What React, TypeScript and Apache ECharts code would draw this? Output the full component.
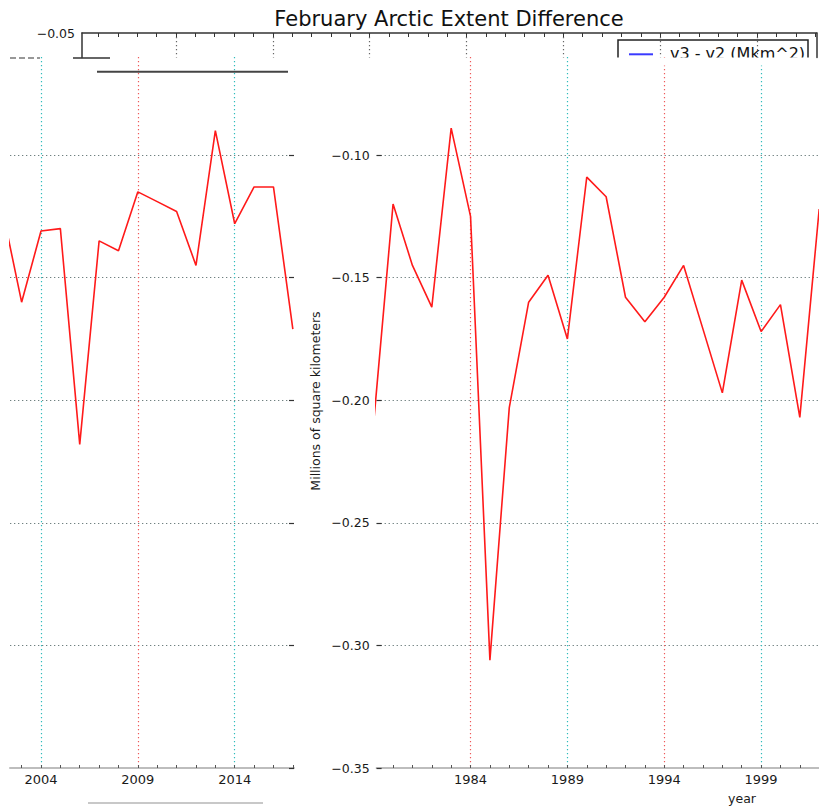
import React, { useEffect, useRef } from 'react';
import * as echarts from 'echarts';

// ---- data ----
const years = [
  1979, 1980, 1981, 1982, 1983, 1984, 1985, 1986, 1987, 1988,
  1989, 1990, 1991, 1992, 1993, 1994, 1995, 1996, 1997, 1998,
  1999, 2000, 2001, 2002, 2003, 2004, 2005, 2006, 2007, 2008,
  2009, 2010, 2011, 2012, 2013, 2014, 2015, 2016, 2017,
];
const diffValues = [
  -0.209, -0.120, -0.145, -0.162, -0.089, -0.125, -0.306, -0.203, -0.160, -0.149,
  -0.175, -0.109, -0.117, -0.158, -0.168, -0.158, -0.145, -0.171, -0.197, -0.151,
  -0.172, -0.161, -0.207, -0.122, -0.160, -0.131, -0.130, -0.218, -0.135, -0.139,
  -0.115, -0.119, -0.123, -0.145, -0.090, -0.128, -0.113, -0.113, -0.171,
];
const majorYears = [1984, 1989, 1994, 1999, 2004, 2009, 2014];
const redGridYears = [1984, 1994, 2009];
const cyanGridYears = [1989, 1999, 2004, 2014];
const yTickValues = [-0.35, -0.3, -0.25, -0.2, -0.15, -0.1];
const topTickValues = [-0.05];
const titleText = 'February Arctic Extent Difference';
const seriesName = 'v3 - v2 (Mkm^2)';
const yAxisName = 'Millions of square kilometers';
const xAxisName = 'year';

const FONT = '"DejaVu Sans", "Noto Sans", sans-serif';
const fmtY = (v: number) => (v < 0 ? '\u2212' : '') + Math.abs(v).toFixed(2);

type Range = { min: number; max: number };

export default function App() {
  const ref = useRef<HTMLDivElement>(null);

  useEffect(() => {
    if (!ref.current) return;
    const chart = echarts.init(ref.current, undefined, { renderer: 'svg' });
    const pairs = years.map((y, i) => [y, diffValues[i]]);

    // layout of the (rolled) panels
    const R: Range = { min: 1979.15, max: 2001.99 };
    const L: Range = { min: 2002.4, max: 2017.06 };
    const T: Range = { min: 1979.15, max: 2017.08 };
    const inRange = (arr: number[], r: Range) => arr.filter((v) => v >= r.min && v <= r.max);

    const red = '#ee5a5a';
    const cyan = '#2fbcbc';
    const dotted = [1.3, 2.7];

    const bottomAxis = (grid: number, r: Range) => ({
      type: 'value',
      gridIndex: grid,
      position: 'bottom',
      min: r.min,
      max: r.max,
      axisLine: { show: true, lineStyle: { color: '#bdbdbd', width: 2 } },
      axisTick: {
        show: true,
        inside: true,
        length: 3,
        customValues: inRange(years, r),
        lineStyle: { color: '#555', width: 1 },
      },
      axisLabel: {
        show: true,
        customValues: inRange(majorYears, r),
        formatter: (v: number) => String(Math.round(v)),
        fontFamily: FONT,
        fontSize: 13,
        color: '#1a1a1a',
        margin: 5,
      },
      splitLine: { show: false },
    });

    const gridAxis = (grid: number, r: Range, vals: number[], color: string) => ({
      type: 'value',
      gridIndex: grid,
      position: 'top',
      min: r.min,
      max: r.max,
      axisLine: { show: false },
      axisTick: { show: false, customValues: inRange(vals, r) },
      axisLabel: { show: false },
      splitLine: { show: true, lineStyle: { type: dotted, color, width: 1.2 } },
    });

    const mainY = (grid: number, pos: 'left' | 'right', labels: boolean) => ({
      type: 'value',
      gridIndex: grid,
      position: pos,
      min: -0.35,
      max: -0.06,
      axisLine: { show: false },
      axisTick: {
        show: true,
        inside: true,
        length: 5,
        customValues: yTickValues,
        lineStyle: { color: '#333', width: 1.2 },
      },
      axisLabel: {
        show: labels,
        customValues: yTickValues,
        formatter: fmtY,
        fontFamily: FONT,
        fontSize: 12.5,
        color: '#1a1a1a',
        margin: 7,
      },
      splitLine: {
        show: true,
        lineStyle: { type: dotted, color: '#6f8080', width: 1.2 },
      },
    });

    chart.setOption({
      animation: false,
      backgroundColor: '#ffffff',
      grid: [
        { left: 376.6, top: 57, width: 442.4, height: 711 },
        { left: 10, top: 57, width: 284, height: 711 },
        { left: 82, top: 33, width: 734.7, height: 24.5 },
      ],
      xAxis: [
        bottomAxis(0, R),
        gridAxis(0, R, redGridYears, red),
        gridAxis(0, R, cyanGridYears, cyan),
        bottomAxis(1, L),
        gridAxis(1, L, redGridYears, red),
        gridAxis(1, L, cyanGridYears, cyan),
        {
          type: 'value',
          gridIndex: 2,
          position: 'top',
          min: T.min,
          max: T.max,
          axisLine: { show: true, lineStyle: { color: '#333', width: 1.5 } },
          axisTick: {
            show: true,
            inside: true,
            length: 4,
            customValues: inRange(years, T),
            lineStyle: { color: '#333', width: 1 },
          },
          axisLabel: { show: false },
          splitLine: { show: false },
        },
        {
          type: 'value',
          gridIndex: 2,
          position: 'bottom',
          min: T.min,
          max: T.max,
          axisLine: { show: false },
          axisTick: { show: false, customValues: inRange(majorYears, T) },
          axisLabel: { show: false },
          splitLine: { show: true, lineStyle: { type: dotted, color: '#666', width: 1.2 } },
        },
      ],
      yAxis: [
        mainY(0, 'left', true),
        mainY(1, 'right', false),
        {
          type: 'value',
          gridIndex: 2,
          position: 'left',
          min: -0.06,
          max: -0.05,
          axisLine: { show: true, lineStyle: { color: '#333', width: 1.5 } },
          axisTick: { show: false, customValues: topTickValues },
          axisLabel: {
            show: true,
            customValues: topTickValues,
            formatter: fmtY,
            fontFamily: FONT,
            fontSize: 12.5,
            color: '#1a1a1a',
            margin: 7,
          },
          splitLine: { show: false },
        },
        {
          type: 'value',
          gridIndex: 2,
          position: 'right',
          min: -0.06,
          max: -0.05,
          axisLine: { show: true, lineStyle: { color: '#333', width: 1.5 } },
          axisTick: { show: false },
          axisLabel: { show: false },
          splitLine: { show: false },
        },
      ],
      series: [
        {
          name: seriesName,
          type: 'line',
          xAxisIndex: 0,
          yAxisIndex: 0,
          data: pairs,
          symbol: 'none',
          clip: true,
          z: 5,
          lineStyle: { color: '#ff1a1a', width: 1.6 },
          itemStyle: { color: '#ff1a1a' },
        },
        {
          name: seriesName,
          type: 'line',
          xAxisIndex: 3,
          yAxisIndex: 1,
          data: pairs,
          symbol: 'none',
          clip: true,
          z: 5,
          lineStyle: { color: '#ff1a1a', width: 1.6 },
          itemStyle: { color: '#ff1a1a' },
        },
      ],
      graphic: [
        {
          type: 'text',
          x: 449,
          y: 19,
          z: 100,
          style: {
            text: titleText,
            font: `21px ${FONT}`,
            fill: '#111',
            align: 'center',
            verticalAlign: 'middle',
          },
        },
        {
          type: 'polyline',
          z: 100,
          shape: { points: [[618, 58], [618, 40], [808, 40], [808, 58]] },
          style: { stroke: '#222', lineWidth: 1.5, fill: 'none' },
        },
        {
          type: 'line',
          z: 100,
          shape: { x1: 629, y1: 54.3, x2: 653, y2: 54.3 },
          style: { stroke: '#3a3aff', lineWidth: 2 },
        },
        {
          type: 'text',
          x: 670,
          y: 53.8,
          z: 100,
          style: {
            text: seriesName,
            font: `16px ${FONT}`,
            fill: '#111',
            align: 'left',
            verticalAlign: 'middle',
          },
        },
        {
          type: 'rect',
          z: 110,
          shape: { x: 612, y: 57.5, width: 200, height: 8 },
          style: { fill: '#ffffff' },
        },
        {
          type: 'text',
          x: 315,
          y: 401,
          rotation: Math.PI / 2,
          z: 100,
          style: {
            text: yAxisName,
            font: `12.5px ${FONT}`,
            fill: '#1a1a1a',
            align: 'center',
            verticalAlign: 'middle',
          },
        },
        {
          type: 'text',
          x: 742,
          y: 798,
          z: 100,
          style: {
            text: xAxisName,
            font: `12.5px ${FONT}`,
            fill: '#1a1a1a',
            align: 'center',
            verticalAlign: 'middle',
          },
        },
        {
          type: 'line',
          z: 100,
          shape: { x1: 97, y1: 71.7, x2: 288, y2: 71.7 },
          style: { stroke: '#444', lineWidth: 2 },
        },
        {
          type: 'line',
          z: 100,
          shape: { x1: 73, y1: 58, x2: 110, y2: 58 },
          style: { stroke: '#333', lineWidth: 1.5 },
        },
        {
          type: 'line',
          z: 100,
          shape: { x1: 10, y1: 58, x2: 40, y2: 58 },
          style: { stroke: '#333', lineWidth: 1.2, lineDash: [6, 3] },
        },
        {
          type: 'line',
          z: 100,
          shape: { x1: 88, y1: 803, x2: 263, y2: 803 },
          style: { stroke: '#c8c8c8', lineWidth: 2 },
        },
      ],
    });

    return () => chart.dispose();
  }, []);

  return (
    <div
      ref={ref}
      style={{ position: 'fixed', left: 0, top: 0, width: 819, height: 806, background: '#fff' }}
    />
  );
}
